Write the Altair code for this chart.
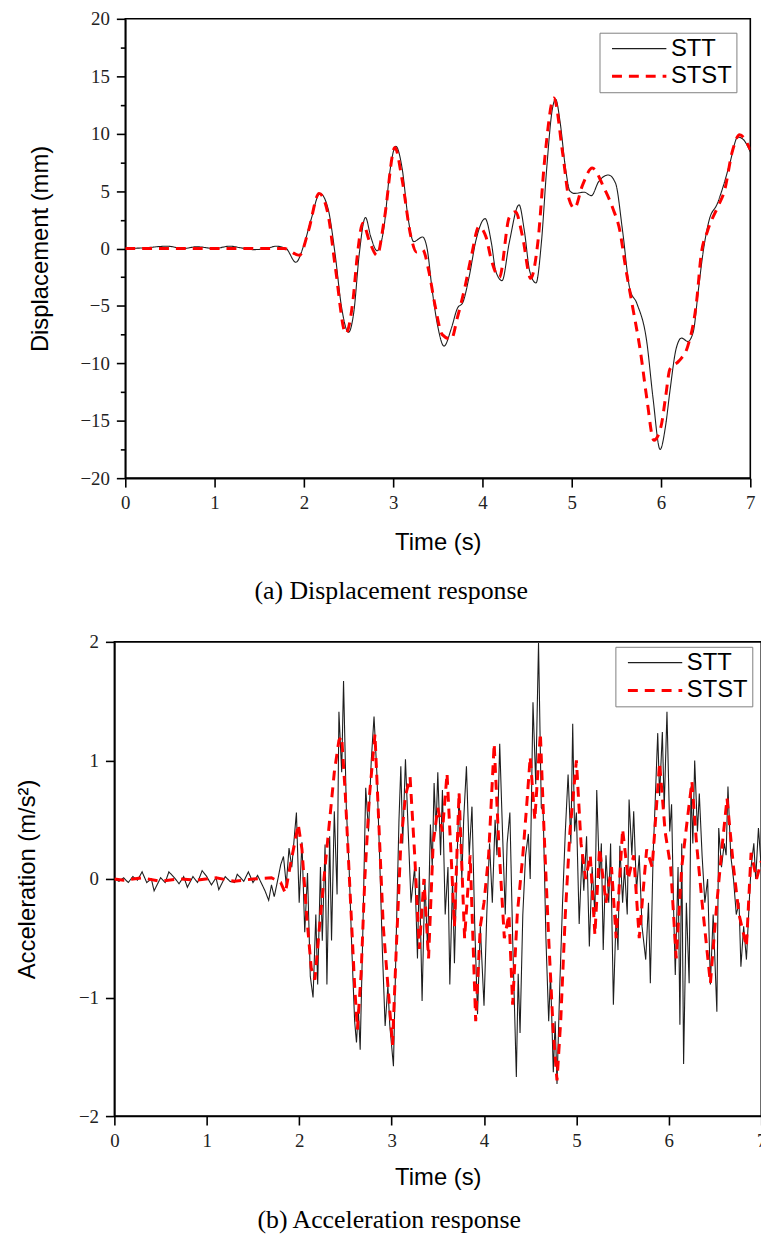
import altair as alt
import pandas as pd

# ---------------- Panel (a): displacement (mm) ----------------
disp_stt_t = [0, 0.2, 0.47, 0.65, 0.8, 1.0, 1.17, 1.3, 1.43, 1.58,
              1.69, 1.8, 1.91, 2.0, 2.08, 2.18, 2.27, 2.35, 2.42, 2.5,
              2.56, 2.62, 2.69, 2.75, 2.82, 2.9, 2.96, 3.03, 3.1, 3.17,
              3.23, 3.33, 3.38, 3.44, 3.5, 3.57, 3.65, 3.72, 3.78, 3.85,
              3.93, 4.03, 4.1, 4.15, 4.22, 4.3, 4.41, 4.47, 4.53, 4.6,
              4.66, 4.72, 4.78, 4.82, 4.87, 4.93, 4.98, 5.03, 5.14, 5.22,
              5.3, 5.41, 5.49, 5.57, 5.65, 5.73, 5.84, 5.91, 5.99, 6.05,
              6.1, 6.17, 6.23, 6.3, 6.36, 6.42, 6.47, 6.54, 6.63, 6.7,
              6.77, 6.86, 6.92, 7.0]
disp_stt_v = [0, 0.05, 0.2, 0.0, 0.15, 0.0, 0.2, 0.05, -0.1, 0.0,
              0.2, 0.0, -1.2, 0.3, 2.5, 4.8, 3.5, -0.5, -5.0, -7.3,
              -5.5, -0.5, 2.7, 1.0, -0.2, 2.0, 6.5, 8.9, 7.0, 2.5,
              0.6, 1.0, 0.0, -3.8, -6.8, -8.5, -7.0, -5.2, -4.7, -2.5,
              0.8, 2.6, 0.5, -2.0, -2.8, 0.5, 3.8, 1.5, -2.0, -3.0,
              0.5, 7.0, 12.0, 13.0, 11.0, 7.0, 5.0, 4.8, 4.9, 4.6,
              5.8, 6.4, 5.7, 1.5, -3.5, -4.8, -8.1, -13.0, -17.5, -15.5,
              -12.4, -8.7, -7.8, -8.1, -7.3, -3.5, -0.4, 2.5, 3.9, 5.5,
              7.4, 9.7, 9.5, 8.4]

disp_stst_t = [0, 1.78, 1.95, 2.05, 2.17, 2.27, 2.35, 2.47, 2.55, 2.6,
               2.66, 2.74, 2.82, 2.9, 3.02, 3.1, 3.2, 3.26, 3.33, 3.4,
               3.47, 3.55, 3.65, 3.72, 3.8, 3.88, 3.96, 4.04, 4.1, 4.19,
               4.3, 4.37, 4.45, 4.54, 4.62, 4.7, 4.8, 4.9, 4.97, 5.03,
               5.12, 5.23, 5.36, 5.46, 5.54, 5.6, 5.68, 5.77, 5.84, 5.92,
               6.0, 6.05, 6.1, 6.2, 6.3, 6.4, 6.45, 6.52, 6.64, 6.71,
               6.8, 6.88, 7.0]
disp_stst_v = [0, 0, -0.6, 1.5, 4.8, 3.0, -1.5, -7.4, -4.5, -0.5,
               2.2, 0.5, -0.6, 2.5, 8.8, 6.0, 1.0, -0.3, -0.1, -2.0,
               -5.0, -7.5, -7.9, -6.0, -3.5, -0.5, 1.9, 1.0, -1.0, -2.5,
               2.7, 3.2, 1.0, -2.6, 0.5, 8.0, 13.1, 8.2, 4.3, 3.5,
               5.5, 7.0, 5.3, 3.5, 1.5, -1.5, -5.0, -9.0, -13.0, -16.7,
               -15.5, -13.0, -10.5, -9.8, -8.5, -4.5, -0.5, 1.5, 3.7, 5.0,
               8.5, 9.9, 8.6]

# ---------------- Panel (b): acceleration (m/s^2) ----------------
acc_stt_t = [0.00, 0.05, 0.10, 0.15, 0.20, 0.25, 0.30, 0.35, 0.40, 0.43,
             0.50, 0.55, 0.59, 0.65, 0.70, 0.75, 0.79, 0.85, 0.90, 0.95,
             1.00, 1.05, 1.10, 1.13, 1.20, 1.25, 1.30, 1.33, 1.40, 1.45,
             1.50, 1.55, 1.60, 1.63, 1.67, 1.70, 1.73, 1.77, 1.80, 1.83,
             1.86, 1.89, 1.92, 1.95, 1.97, 2.00, 2.03, 2.06, 2.09, 2.12,
             2.15, 2.18, 2.20, 2.23, 2.25, 2.28, 2.30, 2.33, 2.35, 2.38,
             2.41, 2.43, 2.46, 2.48, 2.51, 2.54, 2.57, 2.60, 2.62, 2.64,
             2.66, 2.69, 2.72, 2.75, 2.78, 2.81, 2.84, 2.87, 2.90, 2.93,
             2.96, 2.98, 3.02, 3.05, 3.08, 3.10, 3.12, 3.15, 3.18, 3.21,
             3.25, 3.28, 3.30, 3.33, 3.36, 3.39, 3.42, 3.44, 3.46, 3.48,
             3.50, 3.53, 3.55, 3.58, 3.61, 3.63, 3.66, 3.68, 3.71, 3.73,
             3.76, 3.78, 3.81, 3.84, 3.87, 3.90, 3.93, 3.96, 4.00, 4.03,
             4.06, 4.09, 4.12, 4.14, 4.17, 4.20, 4.23, 4.25, 4.28, 4.31,
             4.35, 4.37, 4.39, 4.42, 4.45, 4.48, 4.50, 4.53, 4.56, 4.59,
             4.62, 4.64, 4.67, 4.70, 4.72, 4.75, 4.77, 4.79, 4.82, 4.85,
             4.88, 4.91, 4.94, 4.96, 4.98, 5.00, 5.03, 5.06, 5.08, 5.11,
             5.14, 5.17, 5.20, 5.22, 5.25, 5.27, 5.29, 5.32, 5.35, 5.37,
             5.40, 5.43, 5.45, 5.47, 5.50, 5.52, 5.55, 5.57, 5.60, 5.62,
             5.65, 5.68, 5.71, 5.75, 5.78, 5.80, 5.83, 5.85, 5.88, 5.90,
             5.93, 5.95, 5.98, 6.01, 6.03, 6.05, 6.07, 6.10, 6.12, 6.14,
             6.16, 6.19, 6.22, 6.24, 6.26, 6.28, 6.31, 6.33, 6.36, 6.39,
             6.42, 6.45, 6.48, 6.52, 6.54, 6.57, 6.60, 6.62, 6.64, 6.67,
             6.70, 6.73, 6.76, 6.78, 6.81, 6.84, 6.87, 6.89, 6.92, 6.94,
             6.97, 7.00]
acc_stt_v = [0.00, -0.02, 0.01, -0.03, 0.02, -0.01, 0.06, -0.03, 0.00, -0.10,
             0.01, -0.03, 0.06, 0.01, -0.04, 0.02, -0.07, 0.02, -0.03, 0.07,
             0.02, -0.05, 0.01, -0.09, 0.02, -0.02, -0.03, 0.04, -0.02, 0.06,
             -0.03, 0.03, -0.05, -0.10, -0.18, -0.05, -0.15, 0.00, 0.12, 0.19,
             -0.05, 0.26, 0.10, 0.38, 0.56, -0.20, 0.31, -0.45, 0.05, -0.82,
             -1.00, -0.30, -0.89, 0.10, -0.52, 0.29, -0.89, 0.36, -0.52, 0.57,
             -0.13, 1.41, 0.90, 1.67, 0.60, 0.10, -0.60, -1.20, -1.38, -1.10,
             -1.44, -0.40, 0.77, 0.40, 1.00, 1.37, 0.90, 0.20, -0.60, -1.24,
             -0.90, -1.23, -1.58, -0.50, 0.50, 0.95, 0.30, 1.01, 0.40, -0.20,
             0.10, -0.67, 0.10, -1.03, 0.00, -0.61, 0.46, 0.10, 0.81, 0.40,
             0.90, 0.20, 0.75, -0.30, 0.10, -0.89, 0.00, -0.71, 0.20, 0.72,
             0.00, 0.50, 0.95, 0.20, 0.61, -0.40, -1.14, -0.40, -1.07, -0.30,
             0.30, -0.20, 0.50, 0.20, 1.14, 0.40, -0.30, 0.30, 0.56, -0.50,
             -1.67, -0.80, -1.30, -0.30, 0.20, 0.38, 0.00, 1.49, 0.80, 1.99,
             0.60, 0.58, -0.50, -1.20, -0.80, -1.63, -1.20, -1.73, -0.90, -0.20,
             0.40, 0.88, 0.30, 1.31, 0.40, 0.56, -0.38, 0.20, -0.10, 0.36,
             -0.57, 0.10, -0.30, 0.75, 0.00, 0.30, -0.60, 0.20, -0.20, 0.30,
             -1.06, -0.30, -0.60, 0.28, -0.20, 0.10, -0.30, 0.67, 0.20, 0.57,
             -0.10, 0.20, -0.40, -0.68, -0.20, -0.88, 0.20, 0.60, 1.23, 0.70,
             1.24, 0.60, 1.41, 0.40, 0.63, -0.20, -0.81, 0.10, -1.23, 0.30,
             -1.56, -0.20, -0.88, 0.78, 0.30, 1.00, 0.40, 0.72, 0.20, -0.20,
             0.00, -0.89, -0.30, -1.12, 0.43, 0.10, 0.30, 0.20, 0.78, 0.20,
             0.00, -0.30, -0.20, -0.74, -0.40, -0.68, -0.20, 0.10, 0.30, 0.00,
             0.43, 0.10]

acc_stst_t = [0.00, 0.10, 0.30, 0.50, 0.70, 0.90, 1.10, 1.30, 1.50, 1.70,
              1.80, 1.85, 1.90, 1.95, 1.99, 2.03, 2.08, 2.13, 2.17, 2.22,
              2.28, 2.33, 2.38, 2.43, 2.46, 2.50, 2.55, 2.60, 2.63, 2.67,
              2.71, 2.76, 2.82, 2.86, 2.91, 2.96, 3.01, 3.05, 3.10, 3.15,
              3.20, 3.25, 3.30, 3.35, 3.40, 3.45, 3.50, 3.55, 3.60, 3.65,
              3.68, 3.73, 3.79, 3.85, 3.91, 3.96, 4.00, 4.05, 4.11, 4.16,
              4.22, 4.27, 4.31, 4.36, 4.42, 4.46, 4.50, 4.55, 4.61, 4.65,
              4.70, 4.75, 4.79, 4.83, 4.88, 4.93, 5.00, 5.05, 5.10, 5.15,
              5.20, 5.25, 5.32, 5.38, 5.43, 5.50, 5.56, 5.62, 5.68, 5.76,
              5.82, 5.90, 5.96, 6.02, 6.08, 6.14, 6.20, 6.25, 6.30, 6.36,
              6.45, 6.52, 6.58, 6.63, 6.70, 6.76, 6.84, 6.89, 6.95, 7.00]
acc_stst_v = [0.00, -0.01, 0.01, -0.02, 0.00, -0.01, 0.01, -0.02, 0.00, 0.01,
              -0.03, -0.12, 0.10, 0.30, 0.46, 0.25, -0.30, -0.75, -0.85, -0.40,
              0.10, 0.50, 0.90, 1.17, 1.20, 0.70, -0.10, -0.90, -1.27, -0.80,
              0.00, 0.70, 1.22, 0.50, -0.40, -0.90, -1.40, -0.60, 0.30, 0.70,
              0.86, 0.20, -0.59, 0.00, -0.67, 0.30, 0.60, 0.40, 0.89, 0.10,
              -0.40, 0.73, -0.50, 0.20, -1.20, -0.40, -0.20, 0.20, 1.14, 0.30,
              -0.50, -0.30, -1.06, -0.30, 0.20, 0.60, 1.03, 0.50, 1.23, 0.40,
              -0.50, -1.30, -1.70, -1.20, -0.30, 0.40, 1.00, 0.30, 0.00, 0.20,
              -0.47, 0.26, -0.20, 0.10, -0.50, 0.42, 0.00, 0.20, -0.50, 0.25,
              0.10, 0.98, 0.40, 0.10, -0.67, 0.10, 0.50, 0.82, 0.30, -0.20,
              -0.88, -0.20, 0.30, 0.68, 0.10, -0.30, -0.57, 0.22, 0.00, 0.15]

series_names = ["STT", "STST"]
series_colors = ["#1e1e1e", "#ff0000"]
series_dash = [[1, 0], [10, 7]]

x_ticks = [0, 0.5, 1, 1.5, 2, 2.5, 3, 3.5, 4, 4.5, 5, 5.5, 6, 6.5, 7]
disp_ticks = [-20, -17.5, -15, -12.5, -10, -7.5, -5, -2.5, 0, 2.5, 5, 7.5,
              10, 12.5, 15, 17.5, 20]
acc_ticks = [-2, -1.5, -1, -0.5, 0, 0.5, 1, 1.5, 2]

SANS = "Liberation Sans"
SERIF = "Liberation Serif"


def frame(t, v, name):
    return pd.DataFrame({"t": t, "v": v, "series": name})


def panel(stt, stst, y_title, y_dom, y_ticks, major, w, h, caption, cap_dx,
          cap_offset, leg_x, leg_y, y_title_pad, x_title_pad, interp):
    legend = alt.Legend(
        title=None, orient="none", legendX=leg_x, legendY=leg_y,
        symbolType="stroke", symbolSize=3000, symbolOffset=24,
        symbolStrokeWidth=alt.ExprRef("datum.value === 'STT' ? 1.2 : 3"),
        labelFont=SANS, labelFontSize=24, labelColor="black", labelOffset=20,
        strokeColor="#808080", fillColor="white", padding=4, rowPadding=4,
        cornerRadius=0,
    )
    x_enc = alt.X(
        "t:Q", scale=alt.Scale(domain=[0, 7], nice=False, zero=False),
        axis=alt.Axis(
            title="Time (s)", values=x_ticks, format="d",
            labelExpr="datum.value % 1 === 0 ? datum.label : ''",
            tickSize=alt.ExprRef("datum.value % 1 === 0 ? 9 : 5"),
            labelPadding=7, titlePadding=x_title_pad, labelFlush=False,
            labelOverlap=False,
        ),
    )
    y_enc = alt.Y(
        "v:Q", scale=alt.Scale(domain=y_dom, nice=False, zero=False),
        axis=alt.Axis(
            title=y_title, values=y_ticks, format="d",
            labelExpr=f"datum.value % {major} === 0 ? datum.label : ''",
            tickSize=alt.ExprRef(f"datum.value % {major} === 0 ? 9 : 5"),
            labelPadding=7, titlePadding=y_title_pad, labelOverlap=False,
        ),
    )
    color_enc = alt.Color("series:N", scale=alt.Scale(domain=series_names,
                          range=series_colors), legend=legend)
    dash_enc = alt.StrokeDash("series:N", scale=alt.Scale(domain=series_names,
                              range=series_dash), legend=legend)
    l1 = alt.Chart(stt).mark_line(strokeWidth=1.1, interpolate=interp,
                                  clip=True).encode(
        x=x_enc, y=y_enc, color=color_enc, strokeDash=dash_enc)
    l2 = alt.Chart(stst).mark_line(strokeWidth=3, interpolate=interp,
                                   clip=True).encode(
        x=x_enc, y=y_enc, color=color_enc, strokeDash=dash_enc)
    return alt.layer(l1, l2).properties(
        width=w, height=h,
        title=alt.TitleParams(text=caption, orient="bottom", anchor="middle",
                              dx=cap_dx, offset=cap_offset, font=SERIF,
                              fontSize=26, fontWeight="normal", color="black"),
    )


top = panel(frame(disp_stt_t, disp_stt_v, "STT"),
            frame(disp_stst_t, disp_stst_v, "STST"),
            "Displacement (mm)", [-20, 20], disp_ticks, 5, 630, 463,
            "(a) Displacement response", -47, 24, 478, 14, 28, 18,
            "monotone")
bottom = panel(frame(acc_stt_t, acc_stt_v, "STT"),
               frame(acc_stst_t, acc_stst_v, "STST"),
               "Acceleration (m/s²)", [-2, 2], acc_ticks, 1, 652, 478,
               "(b) Acceleration response", -49, 18, 505, 5, 39, 15,
               "linear")

chart = alt.vconcat(top, bottom, spacing=27, center=True).resolve_scale(
    color="independent", strokeDash="independent"
).resolve_legend(
    color="independent", strokeDash="independent"
).properties(
    padding={"left": 7, "top": -4, "right": -6, "bottom": 0}
).configure_view(
    stroke="black", strokeWidth=1.6
).configure_axis(
    domainColor="black", domainWidth=1.6, tickColor="black", tickWidth=1.6,
    labelFont=SERIF, labelFontSize=19, labelColor="#222222",
    titleFont=SANS, titleFontSize=24, titleFontWeight="normal",
    titleColor="black", grid=False,
)

chart.save("out.html", embed_options={"renderer": "svg", "actions": False})
